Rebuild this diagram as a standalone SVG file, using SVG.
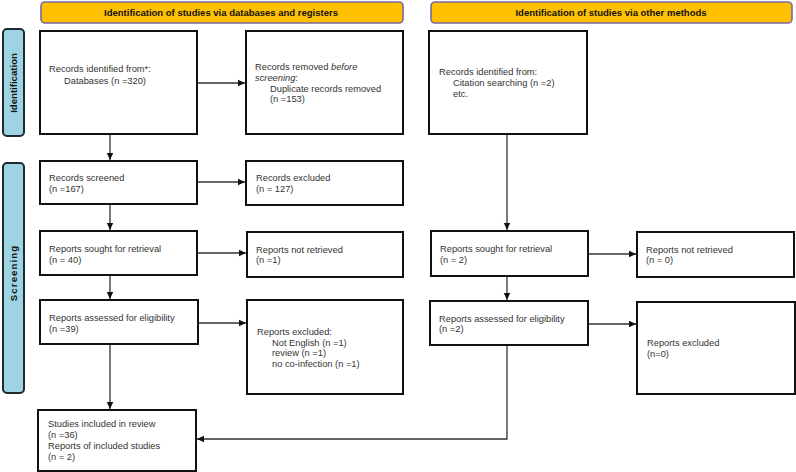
<svg xmlns="http://www.w3.org/2000/svg" width="796" height="472" viewBox="0 0 796 472">
<style>
.hdr{fill:#FFC000;stroke:#7A66A0;stroke-width:1.6}
.side{fill:#9DD3E2;stroke:#1E2A30;stroke-width:2}
.box{fill:#fff;stroke:#111;stroke-width:2}
.ht{font-family:"Liberation Sans",Arial,sans-serif;font-size:9.5px;font-weight:bold;fill:#111;text-anchor:middle}
.st{font-family:"Liberation Sans",Arial,sans-serif;font-size:9.6px;font-weight:bold;fill:#111;text-anchor:middle}
.t{font-family:"Liberation Sans",Arial,sans-serif;font-size:9.3px;fill:#333}
.c{fill:none;stroke:#333;stroke-width:1.3}
</style>
<defs>
<marker id="ah" markerWidth="8" markerHeight="8" refX="7" refY="4" orient="auto" markerUnits="userSpaceOnUse">
<path d="M0,0.8 L7,4 L0,7.2 Z" fill="#111"/>
</marker>
</defs>
<rect width="796" height="472" fill="#fff"/>
<g id="header-databases"><rect class="hdr" x="41" y="2" width="362" height="21" rx="4"/><text class="ht" x="221" y="16.3">Identification of studies via databases and registers</text></g>
<g id="header-other"><rect class="hdr" x="431" y="2" width="361" height="21" rx="4"/><text class="ht" x="611" y="16.3">Identification of studies via other methods</text></g>
<g id="label-identification"><rect class="side" x="3" y="29" width="21" height="107" rx="4"/><text class="st" transform="translate(17,83) rotate(-90)">Identification</text></g>
<g id="label-screening"><rect class="side" x="3" y="163" width="21" height="230" rx="4"/><text class="st" letter-spacing="1.1" transform="translate(17,273) rotate(-90)">Screening</text></g>

<g id="records-identified"><rect class="box" x="40" y="31" width="157" height="103"/>
<text class="t" x="49" y="71.5">Records identified from*:</text>
<text class="t" x="64" y="84">Databases (n =320)</text></g>
<g id="records-removed"><rect class="box" x="246" y="31" width="157" height="103"/>
<text class="t" x="255" y="70">Records removed <tspan font-style="italic">before</tspan></text>
<text class="t" x="255" y="80.5"><tspan font-style="italic">screening</tspan>:</text>
<text class="t" x="270" y="91.5">Duplicate records removed</text>
<text class="t" x="270" y="102">(n =153)</text></g>
<g id="other-records-identified"><rect class="box" x="429" y="31" width="158" height="103"/>
<text class="t" x="439" y="75">Records identified from:</text>
<text class="t" x="453" y="86">Citation searching (n =2)</text>
<text class="t" x="453" y="97">etc.</text></g>

<g id="records-screened"><rect class="box" x="40" y="161" width="157" height="43"/>
<text class="t" x="49" y="180.5">Records screened</text>
<text class="t" x="49" y="191.5">(n =167)</text></g>
<g id="records-excluded"><rect class="box" x="246" y="161" width="157" height="44"/>
<text class="t" x="256" y="180.5">Records excluded</text>
<text class="t" x="256" y="191.5">(n = 127)</text></g>

<g id="reports-sought"><rect class="box" x="40" y="231" width="157" height="44"/>
<text class="t" x="49" y="252">Reports sought for retrieval</text>
<text class="t" x="49" y="262.5">(n = 40)</text></g>
<g id="reports-not-retrieved"><rect class="box" x="247" y="232" width="156" height="45"/>
<text class="t" x="256" y="252.5">Reports not retrieved</text>
<text class="t" x="256" y="263">(n =1)</text></g>
<g id="other-reports-sought"><rect class="box" x="431" y="231" width="157" height="45"/>
<text class="t" x="440" y="251.5">Reports sought for retrieval</text>
<text class="t" x="440" y="262.5">(n = 2)</text></g>
<g id="other-reports-not-retrieved"><rect class="box" x="637" y="232" width="157" height="45"/>
<text class="t" x="646" y="252.5">Reports not retrieved</text>
<text class="t" x="646" y="263">(n = 0)</text></g>

<g id="reports-assessed"><rect class="box" x="40" y="300" width="158" height="44"/>
<text class="t" x="49" y="320.5">Reports assessed for eligibility</text>
<text class="t" x="49" y="331.5">(n =39)</text></g>
<g id="reports-excluded"><rect class="box" x="247" y="300" width="156" height="94"/>
<text class="t" x="257" y="335">Reports excluded:</text>
<text class="t" x="272" y="345.5">Not English (n =1)</text>
<text class="t" x="272" y="356">review (n =1)</text>
<text class="t" x="272" y="367">no co-infection (n =1)</text></g>
<g id="other-reports-assessed"><rect class="box" x="430" y="301" width="158" height="44"/>
<text class="t" x="439" y="321.5">Reports assessed for eligibility</text>
<text class="t" x="439" y="332">(n =2)</text></g>
<g id="other-reports-excluded"><rect class="box" x="637" y="302" width="158" height="92"/>
<text class="t" x="647" y="346">Reports excluded</text>
<text class="t" x="647" y="356.5">(n=0)</text></g>

<g id="studies-included"><rect class="box" x="38" y="410" width="158" height="61"/>
<text class="t" x="48" y="427">Studies included in review</text>
<text class="t" x="48" y="438">(n =36)</text>
<text class="t" x="48" y="449">Reports of included studies</text>
<text class="t" x="48" y="459.5">(n = 2)</text></g>

<g id="connectors">
<line class="c" x1="198" y1="83" x2="245" y2="83" marker-end="url(#ah)"/>
<line class="c" x1="110" y1="135" x2="110" y2="160" marker-end="url(#ah)"/>
<line class="c" x1="198" y1="182" x2="245" y2="182" marker-end="url(#ah)"/>
<line class="c" x1="110" y1="205" x2="110" y2="230" marker-end="url(#ah)"/>
<line class="c" x1="198" y1="253" x2="246" y2="253" marker-end="url(#ah)"/>
<line class="c" x1="110" y1="276" x2="110" y2="299" marker-end="url(#ah)"/>
<line class="c" x1="199" y1="323" x2="246" y2="323" marker-end="url(#ah)"/>
<line class="c" x1="110" y1="345" x2="110" y2="409" marker-end="url(#ah)"/>
<line class="c" x1="507" y1="135" x2="507" y2="230" marker-end="url(#ah)"/>
<line class="c" x1="589" y1="254" x2="636" y2="254" marker-end="url(#ah)"/>
<line class="c" x1="507" y1="277" x2="507" y2="300" marker-end="url(#ah)"/>
<line class="c" x1="589" y1="324" x2="636" y2="324" marker-end="url(#ah)"/>
<polyline class="c" points="507,346 507,439 197,439" marker-end="url(#ah)"/>
</g>
</svg>
